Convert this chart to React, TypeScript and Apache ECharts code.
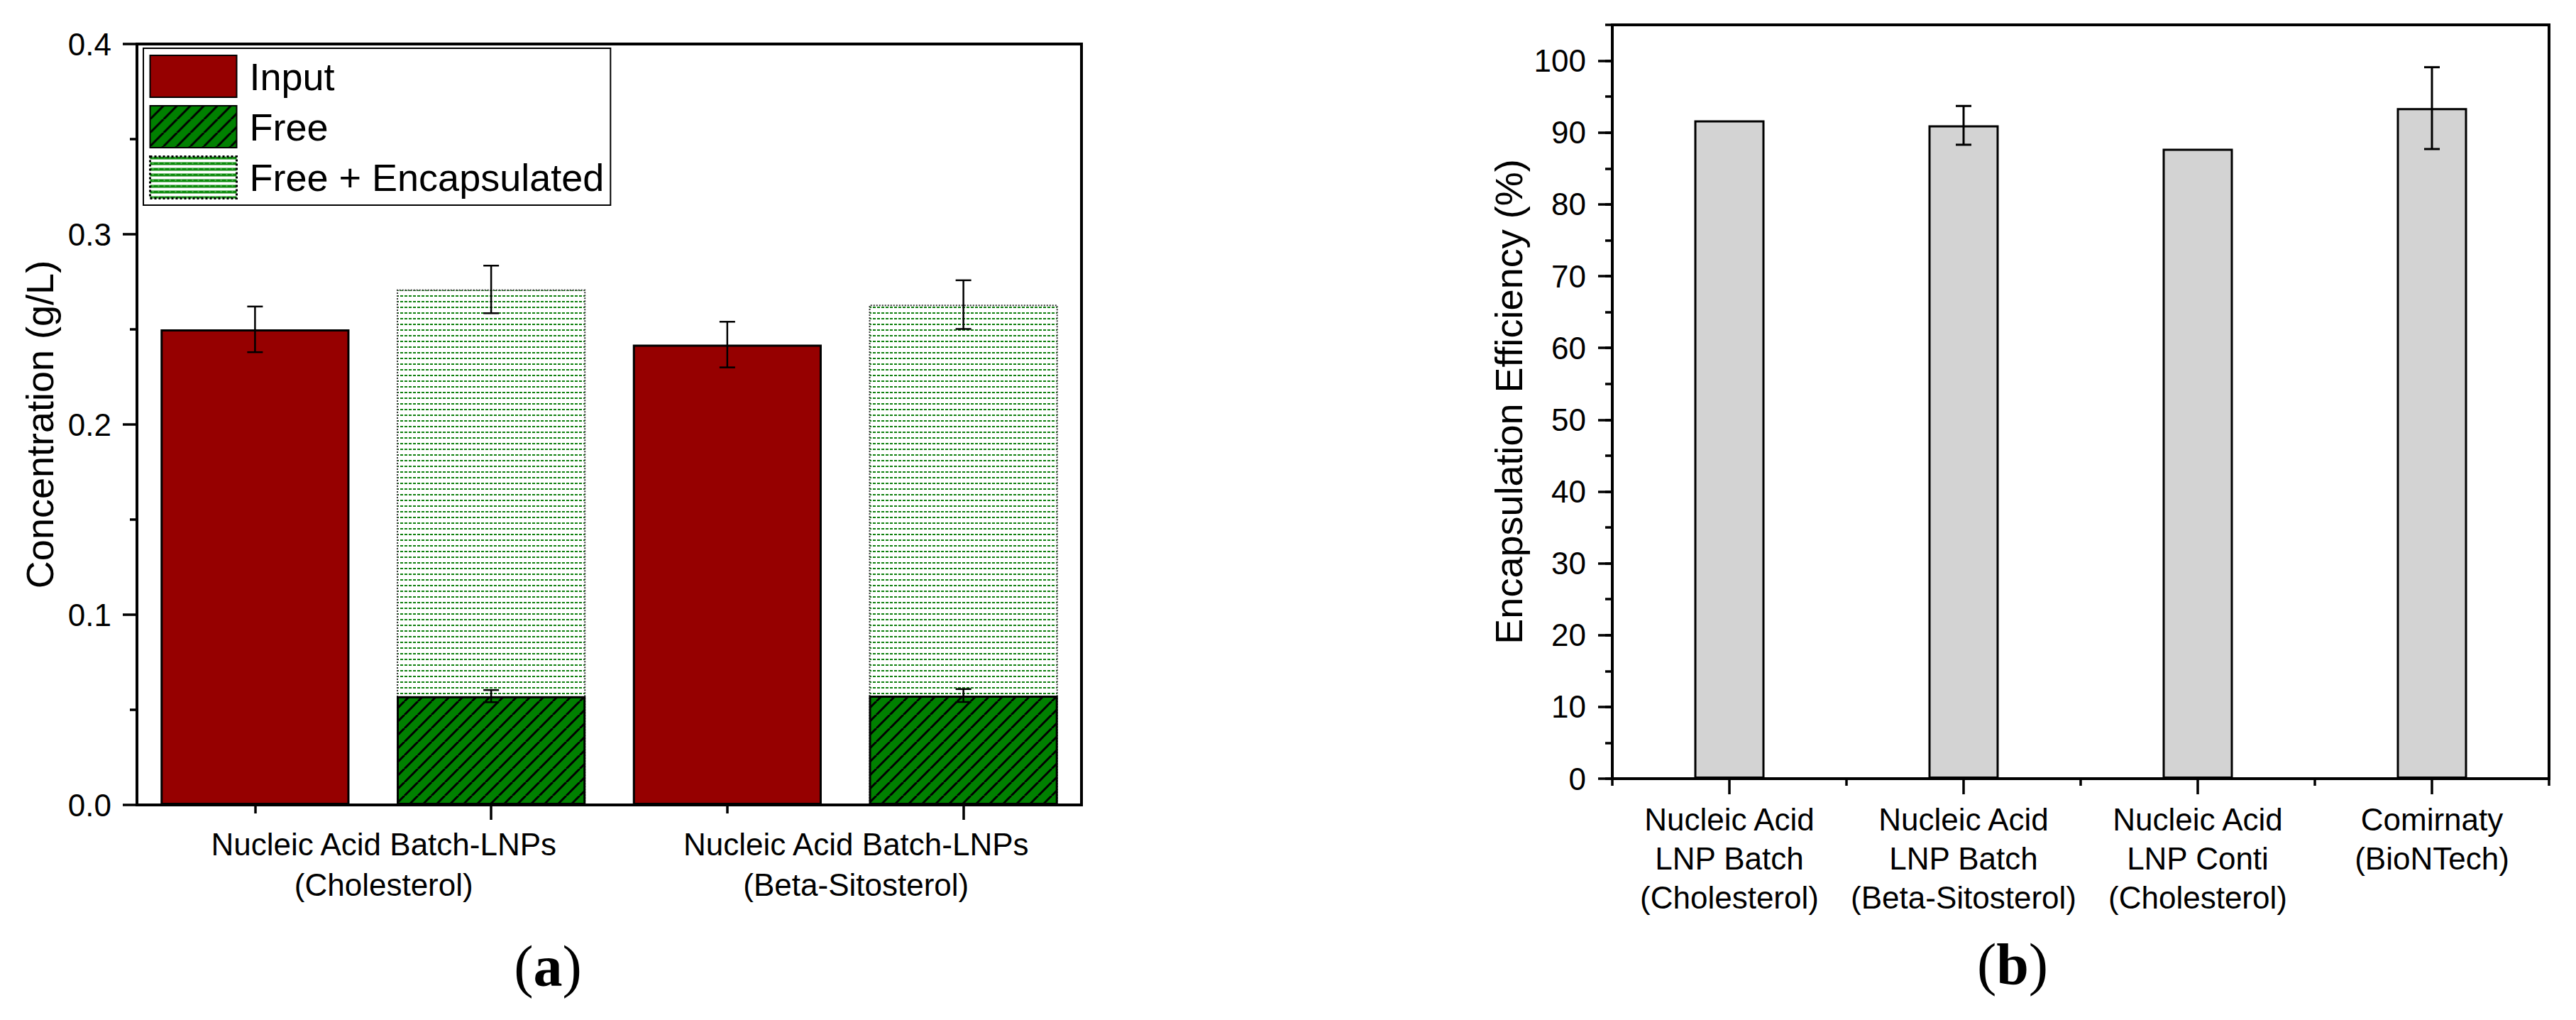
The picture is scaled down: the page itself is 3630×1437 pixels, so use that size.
import { useEffect, useRef } from "react";
import * as echarts from "echarts";

const leftCategories = [
  "Nucleic Acid Batch-LNPs\n(Cholesterol)",
  "Nucleic Acid Batch-LNPs\n(Beta-Sitosterol)",
];
const inputValues = [0.25, 0.242];
const inputErrors = [0.012, 0.012];
const freeValues = [0.0572, 0.0575];
const freeErrors = [0.0032, 0.0034];
const freeEncValues = [0.271, 0.263];
const freeEncErrors = [0.0125, 0.0128];

const rightCategories = [
  "Nucleic Acid\nLNP Batch\n(Cholesterol)",
  "Nucleic Acid\nLNP Batch\n(Beta-Sitosterol)",
  "Nucleic Acid\nLNP Conti\n(Cholesterol)",
  "Comirnaty\n(BioNTech)",
];
const efficiencyValues = [91.7, 91.0, 87.75, 93.4];
const efficiencyErrors = [0, 2.7, 0, 5.7];
const efficiencyTicks = [0, 10, 20, 30, 40, 50, 60, 70, 80, 90, 100];

const FONT = "Liberation Sans, Arial, sans-serif";
const SERIF = "Liberation Serif, Times New Roman, serif";

function hatchPattern() {
  const s = 19;
  const c = document.createElement("canvas");
  c.width = s;
  c.height = s;
  const ctx = c.getContext("2d")!;
  ctx.fillStyle = "#008000";
  ctx.fillRect(0, 0, s, s);
  ctx.strokeStyle = "#000";
  ctx.lineWidth = 3;
  for (let k = -1; k <= 1; k++) {
    ctx.beginPath();
    ctx.moveTo(k * s, s);
    ctx.lineTo(k * s + s, 0);
    ctx.stroke();
  }
  return { image: c, repeat: "repeat", imageWidth: s, imageHeight: s };
}

// thin dashed rows, as in the bars
function dashPattern() {
  const w = 6;
  const h = 8;
  const c = document.createElement("canvas");
  c.width = w;
  c.height = h;
  const ctx = c.getContext("2d")!;
  ctx.fillStyle = "#fff";
  ctx.fillRect(0, 0, w, h);
  ctx.fillStyle = "#0f7f0f";
  ctx.fillRect(0, 0, 4, 2);
  return { image: c, repeat: "repeat", imageWidth: w, imageHeight: h };
}

// heavier rows for the legend swatch
function legendDashPattern() {
  const w = 8;
  const h = 8;
  const c = document.createElement("canvas");
  c.width = w;
  c.height = h;
  const ctx = c.getContext("2d")!;
  ctx.fillStyle = "#fff";
  ctx.fillRect(0, 0, w, h);
  ctx.fillStyle = "#0a8a0a";
  ctx.fillRect(0, 0, w, 4);
  ctx.fillStyle = "#9fd49f";
  ctx.fillRect(3, 1, 2, 1);
  return { image: c, repeat: "repeat", imageWidth: w, imageHeight: h };
}

function errorBar(slotOffset: number, width: number) {
  return (params: any, api: any) => {
    const cat = api.value(0);
    const slot = api.value(1);
    const v = api.value(2);
    const e = api.value(3);
    const band = api.size([1, 0])[0];
    const x = api.coord([cat, v])[0] + slot * band * slotOffset;
    const yTop = api.coord([cat, v + e])[1];
    const yBot = api.coord([cat, v - e])[1];
    const style = { stroke: "#000", lineWidth: width };
    return {
      type: "group",
      children: [
        { type: "line", shape: { x1: x, y1: yTop, x2: x, y2: yBot }, style },
        { type: "line", shape: { x1: x - 11, y1: yTop, x2: x + 11, y2: yTop }, style },
        { type: "line", shape: { x1: x - 11, y1: yBot, x2: x + 11, y2: yBot }, style },
      ],
    };
  };
}

export default function App() {
  const ref = useRef<HTMLDivElement>(null);

  useEffect(() => {
    if (!ref.current) return;
    const chart = echarts.init(ref.current, null, { renderer: "svg" });

    const axisLine = { show: true, lineStyle: { color: "#000", width: 4 } };
    const tickLine = { color: "#000", width: 3.5 };
    const label = { color: "#000", fontFamily: FONT, fontSize: 44 };

    const leftErrRows: number[][] = [];
    leftCategories.forEach((_, i) => {
      leftErrRows.push([i, -1, inputValues[i], inputErrors[i]]);
      leftErrRows.push([i, 1, freeEncValues[i], freeEncErrors[i]]);
      leftErrRows.push([i, 1, freeValues[i], freeErrors[i]]);
    });
    const rightErrRows = efficiencyValues
      .map((v, i) => [i, 0, v, efficiencyErrors[i]])
      .filter((r) => r[3] > 0);

    const panelLabel = (letter: string, x: number, y: number) => ({
      type: "text",
      x,
      y,
      style: {
        text: `{p|(}{b|${letter}}{p|)}`,
        align: "center",
        verticalAlign: "middle",
        textAlign: "center",
        textVerticalAlign: "middle",
        rich: {
          p: { fontFamily: SERIF, fontSize: 82, fill: "#000" },
          b: { fontFamily: SERIF, fontSize: 82, fontWeight: "bold", fill: "#000" },
        },
      },
    });

    chart.setOption({
      animation: false,
      textStyle: { fontFamily: FONT },
      grid: [
        { left: 193, top: 62, width: 1331, height: 1072, show: true, borderColor: "#000", borderWidth: 4 },
        { left: 2272, top: 35, width: 1320, height: 1062, show: true, borderColor: "#000", borderWidth: 4 },
      ],
      legend: {
        left: 202,
        top: 68,
        orient: "vertical",
        icon: "rect",
        itemWidth: 122,
        itemHeight: 59,
        itemGap: 10,
        padding: [9, 9, 8, 8],
        borderColor: "#000",
        borderWidth: 2,
        backgroundColor: "#fff",
        selectedMode: false,
        data: [
          "Input",
          "Free",
          {
            name: "Free + Encapsulated",
            itemStyle: { color: legendDashPattern(), borderColor: "#000", borderWidth: 3, borderType: "dotted" },
          },
        ],
        textStyle: { color: "#000", fontFamily: FONT, fontSize: 54, padding: [0, 0, 0, 13] },
      },
      xAxis: [
        {
          type: "category",
          gridIndex: 0,
          data: leftCategories,
          axisLine,
          axisTick: { show: false },
          axisLabel: { ...label, interval: 0, lineHeight: 57, margin: 27, padding: [0, 0, 0, 30] },
        },
        { type: "category", gridIndex: 0, data: leftCategories, show: false },
        {
          type: "category",
          gridIndex: 0,
          position: "bottom",
          data: ["a", "b", "c", "d"],
          axisLine: { show: false },
          axisLabel: { show: false },
          axisTick: { show: true, alignWithLabel: true, interval: (i: number) => i % 2 === 0, length: 12, lineStyle: tickLine },
        },
        {
          type: "category",
          gridIndex: 0,
          position: "bottom",
          data: ["a", "b", "c", "d"],
          axisLine: { show: false },
          axisLabel: { show: false },
          axisTick: { show: true, alignWithLabel: true, interval: (i: number) => i % 2 === 1, length: 21, lineStyle: tickLine },
        },
        {
          type: "category",
          gridIndex: 1,
          position: "bottom",
          data: rightCategories,
          axisLine,
          axisTick: { show: true, interval: 0, length: 10, lineStyle: tickLine },
          axisLabel: { ...label, interval: 0, lineHeight: 55, margin: 30 },
        },
        {
          type: "category",
          gridIndex: 1,
          position: "bottom",
          data: rightCategories,
          axisLine: { show: false },
          axisLabel: { show: false },
          axisTick: { show: true, interval: 0, alignWithLabel: true, length: 22, lineStyle: tickLine },
        },
      ],
      yAxis: [
        {
          type: "value",
          gridIndex: 0,
          position: "left",
          min: 0,
          max: 0.4,
          interval: 0.1,
          axisLine,
          axisTick: { show: true, length: 20, lineStyle: tickLine },
          minorTick: { show: true, splitNumber: 2, length: 10, lineStyle: tickLine },
          splitLine: { show: false },
          axisLabel: { ...label, margin: 36, formatter: (v: number) => v.toFixed(1) },
          name: "Concentration (g/L)",
          nameLocation: "middle",
          nameGap: 110,
          nameTextStyle: { color: "#000", fontFamily: FONT, fontSize: 54 },
        },
        {
          type: "value",
          gridIndex: 1,
          position: "left",
          min: 0,
          max: 105,
          interval: 10,
          axisLine,
          axisTick: { show: true, length: 20, lineStyle: tickLine, customValues: efficiencyTicks },
          splitLine: { show: false },
          axisLabel: { ...label, margin: 37, customValues: efficiencyTicks },
          name: "Encapsulation Efficiency (%)",
          nameLocation: "middle",
          nameGap: 119,
          nameTextStyle: { color: "#000", fontFamily: FONT, fontSize: 54 },
        },
        {
          type: "value",
          gridIndex: 1,
          position: "left",
          min: 0,
          max: 105,
          interval: 5,
          axisLine: { show: false },
          axisLabel: { show: false },
          splitLine: { show: false },
          axisTick: { show: true, length: 10, lineStyle: tickLine },
        },
      ],
      series: [
        {
          name: "Input",
          type: "bar",
          xAxisIndex: 0,
          yAxisIndex: 0,
          barWidth: "40%",
          barGap: "25%",
          data: inputValues,
          itemStyle: { color: "#960000", borderColor: "#000", borderWidth: 3 },
        },
        {
          name: "Free + Encapsulated",
          type: "bar",
          xAxisIndex: 0,
          yAxisIndex: 0,
          barWidth: "40%",
          barGap: "25%",
          data: freeEncValues,
          itemStyle: { color: dashPattern(), borderColor: "#333", borderWidth: 2, borderType: "dotted" },
        },
        {
          name: "_slot",
          type: "bar",
          xAxisIndex: 1,
          yAxisIndex: 0,
          barWidth: "40%",
          barGap: "25%",
          data: ["-", "-"],
        },
        {
          name: "Free",
          type: "bar",
          xAxisIndex: 1,
          yAxisIndex: 0,
          barWidth: "40%",
          barGap: "25%",
          z: 3,
          data: freeValues,
          itemStyle: { color: hatchPattern(), borderColor: "#000", borderWidth: 3 },
        },
        {
          type: "custom",
          xAxisIndex: 0,
          yAxisIndex: 0,
          z: 10,
          data: leftErrRows,
          encode: { x: 0, y: 2 },
          renderItem: errorBar(0.25, 2.5),
        },
        {
          name: "Efficiency",
          type: "bar",
          xAxisIndex: 4,
          yAxisIndex: 1,
          barWidth: "30%",
          data: efficiencyValues,
          itemStyle: { color: "#d3d3d3", borderColor: "#000", borderWidth: 3 },
        },
        {
          type: "custom",
          xAxisIndex: 4,
          yAxisIndex: 1,
          z: 10,
          data: rightErrRows,
          encode: { x: 0, y: 2 },
          renderItem: errorBar(0, 3),
        },
      ],
      graphic: [panelLabel("a", 772, 1361), panelLabel("b", 2836, 1358)],
    });

    return () => {
      chart.dispose();
    };
  }, []);

  return (
    <div
      ref={ref}
      style={{ position: "absolute", left: 0, top: 0, width: 3630, height: 1437, background: "#fff" }}
    />
  );
}
